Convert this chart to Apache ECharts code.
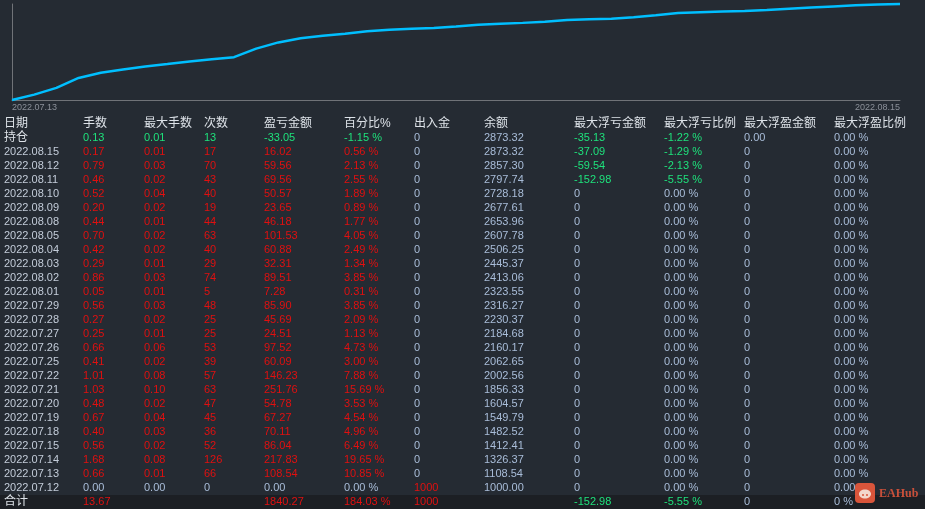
<!DOCTYPE html>
<html>
<head>
<meta charset="utf-8">
<script src="https://cdn.jsdelivr.net/npm/echarts@6/dist/echarts.min.js"></script>
<style>
html,body{margin:0;padding:0;background:#252b33;}
#main{width:925px;height:509px;}
</style>
</head>
<body>
<div id="main"></div>
<script>
// ---- line chart data (balance curve) ----
const lineTickLabels = ['2022.07.13', '2022.08.15'];
const equity = [1000, 1105, 1237, 1430, 1531, 1593, 1652, 1702, 1753, 1796, 1836, 2002, 2124, 2206,
  2255, 2293, 2342, 2371, 2389, 2404, 2433, 2467, 2488, 2505, 2527, 2562, 2577, 2585, 2614, 2653,
  2696, 2712, 2725, 2739, 2754, 2780, 2803, 2826, 2848, 2863, 2873.32];

// ---- table data ----
const headers = ['日期', '手数', '最大手数', '次数', '盈亏金额', '百分比%', '出入金', '余额', '最大浮亏金额', '最大浮亏比例', '最大浮盈金额', '最大浮盈比例'];
const dates = ['2022.08.15', '2022.08.12', '2022.08.11', '2022.08.10', '2022.08.09', '2022.08.08', '2022.08.05', '2022.08.04', '2022.08.03', '2022.08.02', '2022.08.01', '2022.07.29', '2022.07.28', '2022.07.27', '2022.07.26', '2022.07.25', '2022.07.22', '2022.07.21', '2022.07.20', '2022.07.19', '2022.07.18', '2022.07.15', '2022.07.14', '2022.07.13', '2022.07.12'];
const lots = [0.17, 0.79, 0.46, 0.52, 0.20, 0.44, 0.70, 0.42, 0.29, 0.86, 0.05, 0.56, 0.27, 0.25, 0.66, 0.41, 1.01, 1.03, 0.48, 0.67, 0.40, 0.56, 1.68, 0.66, 0.00];
const maxLots = [0.01, 0.03, 0.02, 0.04, 0.02, 0.01, 0.02, 0.02, 0.01, 0.03, 0.01, 0.03, 0.02, 0.01, 0.06, 0.02, 0.08, 0.10, 0.02, 0.04, 0.03, 0.02, 0.08, 0.01, 0.00];
const counts = [17, 70, 43, 40, 19, 44, 63, 40, 29, 74, 5, 48, 25, 25, 53, 39, 57, 63, 47, 45, 36, 52, 126, 66, 0];
const pnl = [16.02, 59.56, 69.56, 50.57, 23.65, 46.18, 101.53, 60.88, 32.31, 89.51, 7.28, 85.90, 45.69, 24.51, 97.52, 60.09, 146.23, 251.76, 54.78, 67.27, 70.11, 86.04, 217.83, 108.54, 0.00];
const pct = [0.56, 2.13, 2.55, 1.89, 0.89, 1.77, 4.05, 2.49, 1.34, 3.85, 0.31, 3.85, 2.09, 1.13, 4.73, 3.00, 7.88, 15.69, 3.53, 4.54, 4.96, 6.49, 19.65, 10.85, 0.00];
const deposit = [0, 0, 0, 0, 0, 0, 0, 0, 0, 0, 0, 0, 0, 0, 0, 0, 0, 0, 0, 0, 0, 0, 0, 0, 1000];
const balance = [2873.32, 2857.30, 2797.74, 2728.18, 2677.61, 2653.96, 2607.78, 2506.25, 2445.37, 2413.06, 2323.55, 2316.27, 2230.37, 2184.68, 2160.17, 2062.65, 2002.56, 1856.33, 1604.57, 1549.79, 1482.52, 1412.41, 1326.37, 1108.54, 1000.00];
const maxFloatLoss = [-37.09, -59.54, -152.98, 0, 0, 0, 0, 0, 0, 0, 0, 0, 0, 0, 0, 0, 0, 0, 0, 0, 0, 0, 0, 0, 0];
const maxFloatLossPct = [-1.29, -2.13, -5.55, 0, 0, 0, 0, 0, 0, 0, 0, 0, 0, 0, 0, 0, 0, 0, 0, 0, 0, 0, 0, 0, 0];
const maxFloatProfit = [0, 0, 0, 0, 0, 0, 0, 0, 0, 0, 0, 0, 0, 0, 0, 0, 0, 0, 0, 0, 0, 0, 0, 0, 0];
const maxFloatProfitPct = [0, 0, 0, 0, 0, 0, 0, 0, 0, 0, 0, 0, 0, 0, 0, 0, 0, 0, 0, 0, 0, 0, 0, 0, 0];
const openRow = ['持仓', '0.13', '0.01', '13', '-33.05', '-1.15 %', '0', '2873.32', '-35.13', '-1.22 %', '0.00', '0.00 %'];
const totalRow = ['合计', '13.67', '', '', '1840.27', '184.03 %', '1000', '', '-152.98', '-5.55 %', '0', '0 %'];

// ---- layout ----
const colX = [4, 83, 144, 204, 264, 344, 414, 484, 574, 664, 744, 834];
const headerY = 124, rowH = 14;
const C = { head: '#dde2e8', date: '#c3ccd9', red: '#e01010', green: '#1ee27c', blue: '#a9bdd9' };
const numFont = '11px "Liberation Sans", Arial, sans-serif';
const cjkFont = '12px "Liberation Sans", "Noto Sans CJK SC", sans-serif';
// open-position row: all non-zero trade figures shown in green
const openColors = [C.head, C.green, C.green, C.green, C.green, C.green, C.blue, C.blue, C.green, C.green, C.blue, C.blue];

function signColor(v) { return v > 0 ? C.red : (v < 0 ? C.green : C.blue); }
function numColor(s) { const v = parseFloat(s); return isNaN(v) ? C.blue : signColor(v); }

const g = [];
function txt(x, y, s, fill, font) {
  g.push({ type: 'text', x: x, y: y, silent: true, z: 10,
    style: { text: s, fill: fill, font: font, align: 'left', verticalAlign: 'middle' } });
}
// total row background
g.push({ type: 'rect', shape: { x: 0, y: 495, width: 925, height: 14 }, style: { fill: '#1c1f24' }, z: 1 });

headers.forEach((h, i) => txt(colX[i], headerY, h, C.head, cjkFont));
// open positions row
openRow.forEach((s, i) => {
  txt(colX[i], headerY + rowH, s, openColors[i], i === 0 ? cjkFont : numFont);
});
// daily rows
dates.forEach((d, r) => {
  const y = headerY + rowH * (r + 2);
  const cells = [
    [d, C.date],
    [lots[r].toFixed(2), signColor(lots[r])],
    [maxLots[r].toFixed(2), signColor(maxLots[r])],
    [String(counts[r]), signColor(counts[r])],
    [pnl[r].toFixed(2), signColor(pnl[r])],
    [pct[r].toFixed(2) + ' %', signColor(pct[r])],
    [String(deposit[r]), signColor(deposit[r])],
    [balance[r].toFixed(2), C.blue],
    [maxFloatLoss[r] === 0 ? '0' : maxFloatLoss[r].toFixed(2), signColor(maxFloatLoss[r])],
    [maxFloatLossPct[r].toFixed(2) + ' %', signColor(maxFloatLossPct[r])],
    [maxFloatProfit[r] === 0 ? '0' : maxFloatProfit[r].toFixed(2), C.blue],
    [maxFloatProfitPct[r].toFixed(2) + ' %', C.blue]
  ];
  cells.forEach((c, i) => txt(colX[i], y, c[0], c[1], numFont));
});
// total row
const totalY = headerY + rowH * (dates.length + 2);
totalRow.forEach((s, i) => {
  if (s === '') return;
  if (i === 0) { txt(colX[i], totalY, s, C.head, cjkFont); return; }
  txt(colX[i], totalY, s, numColor(s), numFont);
});
// watermark
g.push({ type: 'rect', shape: { x: 855, y: 483, width: 20, height: 20, r: 4 }, style: { fill: '#d9553b' }, z: 20 });
g.push({ type: 'ellipse', shape: { cx: 865, cy: 494, rx: 6, ry: 4.5 }, style: { fill: '#f3d6cc' }, z: 21 });
g.push({ type: 'circle', shape: { cx: 863, cy: 495, r: 1 }, style: { fill: '#d9553b' }, z: 22 });
g.push({ type: 'circle', shape: { cx: 867, cy: 495, r: 1 }, style: { fill: '#d9553b' }, z: 22 });
g.push({ type: 'text', x: 879, y: 494, z: 20, silent: true,
  style: { text: 'EAHub', fill: '#c9503a', font: 'bold 12px "Liberation Serif", serif', align: 'left', verticalAlign: 'middle' } });

const chart = echarts.init(document.getElementById('main'));
chart.setOption({
  backgroundColor: '#252b33',
  animation: false,
  grid: { left: 12, right: 25, top: 4, bottom: 409, containLabel: false },
  xAxis: {
    type: 'category',
    boundaryGap: false,
    data: equity.map((_, i) => String(i)),
    axisLine: { lineStyle: { color: '#707378', width: 1 } },
    axisTick: { show: false },
    splitLine: { show: false },
    axisLabel: {
      interval: 0,
      margin: 3,
      fontSize: 9,
      color: '#8b9099',
      fontFamily: '"Liberation Sans Narrow", "Liberation Sans", sans-serif',
      alignMinLabel: 'left',
      alignMaxLabel: 'right',
      formatter: function (v, i) {
        if (i === 0) return lineTickLabels[0];
        if (i === equity.length - 1) return lineTickLabels[1];
        return '';
      }
    }
  },
  yAxis: {
    type: 'value',
    min: 1000,
    max: 2873.32,
    axisLine: { show: true, lineStyle: { color: '#707378', width: 1 } },
    axisTick: { show: false },
    axisLabel: { show: false },
    splitLine: { show: false }
  },
  series: [{
    type: 'line',
    data: equity,
    showSymbol: false,
    clip: false,
    lineStyle: { color: '#00bfff', width: 2.5 },
    itemStyle: { color: '#00bfff' }
  }],
  graphic: g
});
</script>
</body>
</html>
